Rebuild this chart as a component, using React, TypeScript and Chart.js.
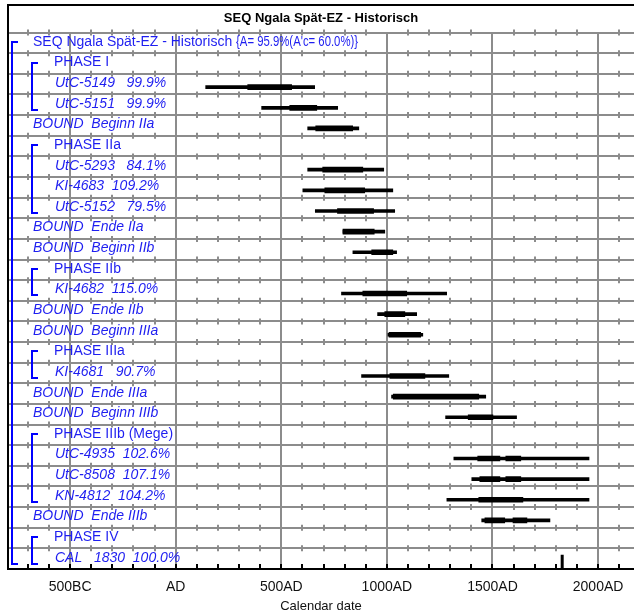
import { useEffect, useRef } from 'react';
import { Chart, registerables } from 'chart.js';

Chart.register(...registerables);

const rowNames = [
  'SEQ Ngala Spät-EZ - Historisch',
  'PHASE I',
  'UtC-5149',
  'UtC-5151',
  'BOUND  Beginn IIa',
  'PHASE IIa',
  'UtC-5293',
  'KI-4683',
  'UtC-5152',
  'BOUND  Ende IIa',
  'BOUND  Beginn IIb',
  'PHASE IIb',
  'KI-4682',
  'BOUND  Ende IIb',
  'BOUND  Beginn IIIa',
  'PHASE IIIa',
  'KI-4681',
  'BOUND  Ende IIIa',
  'BOUND  Beginn IIIb',
  'PHASE IIIb (Mege)',
  'UtC-4935',
  'UtC-8508',
  'KN-4812',
  'BOUND  Ende IIIb',
  'PHASE IV',
  'CAL   1830',
];

const rowKinds = [
  'seq', 'phase', 'date', 'date', 'bound', 'phase', 'date', 'date', 'date', 'bound',
  'bound', 'phase', 'date', 'bound', 'bound', 'phase', 'date', 'bound', 'bound', 'phase',
  'date', 'date', 'date', 'bound', 'phase', 'date',
];

const agreements = [
  "{A= 95.9%(A'c= 60.0%)}", '', '99.9%', '99.9%', '', '', '84.1%', '109.2%', '79.5%', '',
  '', '', '115.0%', '', '', '', '90.7%', '', '', '',
  '102.6%', '107.1%', '104.2%', '', '', '100.0%',
];

const range95From = [null, null, 142, 407, 625, null, 625, 602, 661, 792, 839, null, 785, 956, 1005, null, 880, 1022, 1278, null, 1317, 1402, 1284, 1449, null, null];
const range95To = [null, null, 658, 767, 867, null, 985, 1028, 1037, 990, 1046, null, 1283, 1141, 1170, null, 1293, 1468, 1614, null, 1957, 1957, 1957, 1772, null, null];
const range68From = [null, null, 341, 540, 663, null, 696, 706, 766, 792, 928, null, 886, 990, 1010, null, 1014, 1030, 1385, null, 1430, 1440, 1435, 1464, null, null];
const range68To = [null, null, 549, 668, 838, null, 886, 895, 937, 940, 1028, null, 1094, 1085, 1160, null, 1180, 1435, 1502, null, 1535, 1535, 1644, 1558, null, null];
const range68bFrom = [null, null, null, null, null, null, null, null, null, null, null, null, null, null, null, null, null, null, null, null, 1563, 1563, null, 1597, null, null];
const range68bTo = [null, null, null, null, null, null, null, null, null, null, null, null, null, null, null, null, null, null, null, null, 1634, 1634, null, 1663, null, null];

const calendarDate = 1830;
const calendarRow = 25;

const sequenceGroup = [0, 25];
const phaseGroups = [[1, 3], [5, 8], [11, 12], [15, 16], [19, 22], [24, 25]];

const xMin = -794;
const xMax = 2170;
const tickStep = 100;
const majorStep = 500;

const FONT = '"Liberation Sans", Arial, Helvetica, sans-serif';
const BLUE = '#1e1ef0';
const GRID = '#8c8c8c';

function yearLabel(v: number): string {
  if (v === 0) return 'AD';
  if (v < 0) return `${-v}BC`;
  return `${v}AD`;
}

function pairs(from: (number | null)[], to: (number | null)[]) {
  return from.map((f, i) => (f == null || to[i] == null ? null : [f, to[i] as number]));
}

const oxcalPlugin = {
  id: 'oxcalDecor',
  beforeDatasetsDraw(chart: any) {
    const { ctx, chartArea, scales } = chart;
    const xs = scales.x;
    const ys = scales.y;
    const n = rowNames.length;
    const rowH = (chartArea.bottom - chartArea.top) / n;
    ctx.save();
    ctx.strokeStyle = GRID;
    ctx.lineWidth = 2;
    for (let i = 0; i < n; i++) {
      const y = ys.getPixelForValue(i) - rowH / 2;
      for (let v = Math.ceil(xMin / tickStep) * tickStep; v <= xMax; v += tickStep) {
        if (v % majorStep === 0) continue;
        const x = Math.round(xs.getPixelForValue(v));
        ctx.beginPath();
        ctx.moveTo(x, y - 3);
        ctx.lineTo(x, y + 3);
        ctx.stroke();
      }
    }
    ctx.strokeStyle = '#000';
    for (let v = Math.ceil(xMin / tickStep) * tickStep; v <= xMax; v += tickStep) {
      const x = Math.round(xs.getPixelForValue(v));
      ctx.beginPath();
      ctx.moveTo(x, chartArea.bottom);
      ctx.lineTo(x, chartArea.bottom - 5);
      ctx.stroke();
    }
    ctx.restore();
    ctx.save();
    ctx.translate(0, 3);
  },
  afterDatasetsDraw(chart: any) {
    const { ctx, chartArea, scales } = chart;
    ctx.restore();
    const ys = scales.y;
    ctx.save();
    ctx.fillStyle = BLUE;
    ctx.textBaseline = 'middle';
    ctx.textAlign = 'left';
    rowNames.forEach((name, i) => {
      const kind = rowKinds[i];
      const italic = kind === 'date' || kind === 'bound';
      ctx.font = `${italic ? 'italic ' : ''}14px ${FONT}`;
      const x = kind === 'phase' ? 54 : kind === 'date' ? 55 : 33;
      const y = ys.getPixelForValue(i) - 1;
      const ag = agreements[i];
      if (kind === 'seq') {
        ctx.fillText(name, x, y);
        const w = ctx.measureText(name + ' ').width;
        ctx.fillText(ag, x + w, y, 122);
      } else {
        const text = ag ? name + (ag.length > 5 ? '  ' : '   ') + ag : name;
        ctx.fillText(text, x, y);
      }
    });
    ctx.strokeStyle = '#0000ff';
    ctx.lineWidth = 2;
    const bracket = (a: number, b: number, x: number) => {
      const y1 = Math.round(ys.getPixelForValue(a)) - 1;
      const y2 = Math.round(ys.getPixelForValue(b)) + 5;
      ctx.beginPath();
      ctx.moveTo(x + 6, y1);
      ctx.lineTo(x, y1);
      ctx.lineTo(x, y2);
      ctx.lineTo(x + 6, y2);
      ctx.stroke();
    };
    bracket(sequenceGroup[0], sequenceGroup[1], 12);
    phaseGroups.forEach(([a, b]) => bracket(a, b, 32));
    ctx.strokeStyle = '#000';
    ctx.lineWidth = 2;
    ctx.beginPath();
    ctx.moveTo(chartArea.right, 5);
    ctx.lineTo(chartArea.left, 5);
    ctx.lineTo(chartArea.left, chartArea.top);
    ctx.stroke();
    ctx.restore();
  },
};

export default function App() {
  const ref = useRef<HTMLCanvasElement | null>(null);
  useEffect(() => {
    if (!ref.current) return;
    const chart = new Chart(ref.current, {
      type: 'bar',
      data: {
        labels: rowNames,
        datasets: [
          {
            label: '95.4% range',
            data: pairs(range95From, range95To) as any,
            backgroundColor: '#000',
            barThickness: 3,
            grouped: false,
          } as any,
          {
            label: '68.2% range',
            data: pairs(range68From, range68To) as any,
            backgroundColor: '#000',
            barThickness: 5,
            grouped: false,
          } as any,
          {
            label: '68.2% range (b)',
            data: pairs(range68bFrom, range68bTo) as any,
            backgroundColor: '#000',
            barThickness: 5,
            grouped: false,
          } as any,
          {
            type: 'scatter',
            label: 'Calendar',
            data: [{ x: calendarDate, y: rowNames[calendarRow] }],
            pointStyle: 'line',
            rotation: 90,
            radius: 7,
            borderWidth: 3,
            borderColor: '#000',
            backgroundColor: '#000',
          } as any,
        ],
      },
      options: {
        indexAxis: 'y',
        responsive: false,
        animation: false,
        events: [],
        layout: { autoPadding: false, padding: { top: 5, left: 8, right: 0, bottom: 0 } },
        plugins: {
          legend: { display: false },
          tooltip: { enabled: false },
          title: {
            display: true,
            text: 'SEQ Ngala Spät-EZ - Historisch',
            color: '#000',
            font: { family: FONT, size: 13, weight: 'bold' },
            padding: { top: 6, bottom: 6 },
          },
        },
        scales: {
          x: {
            type: 'linear',
            position: 'bottom',
            min: xMin,
            max: xMax,
            afterFit: (s: any) => { s.height = 47; },
            ticks: {
              stepSize: tickStep,
              autoSkip: false,
              maxRotation: 0,
              padding: 0,
              color: '#111',
              font: { family: FONT, size: 14 },
              callback: (v: any) => (Number(v) % majorStep === 0 ? yearLabel(Number(v)) : ''),
            },
            grid: {
              drawTicks: true,
              tickLength: 10,
              tickColor: 'rgba(0,0,0,0)',
              lineWidth: 2,
              color: (c: any) => (c.tick && c.tick.value % majorStep === 0 ? GRID : 'rgba(0,0,0,0)'),
            },
            border: { display: true, color: '#000', width: 2 },
            title: {
              display: true,
              text: 'Calendar date',
              color: '#111',
              font: { family: FONT, size: 13 },
              padding: { top: 0, bottom: 2 },
            },
          },
          y: {
            type: 'category',
            offset: true,
            afterFit: (s: any) => { s.width = 0; },
            ticks: { display: false, padding: 0 },
            grid: { offset: true, drawTicks: false, color: GRID, lineWidth: 2 },
            border: { display: true, color: '#000', width: 2 },
          },
        },
      } as any,
      plugins: [oxcalPlugin],
    });
    return () => chart.destroy();
  }, []);
  return (
    <div style={{ position: 'fixed', left: 0, top: 0, width: 634, height: 616, background: '#fff' }}>
      <canvas ref={ref} width={634} height={616} style={{ display: 'block' }} />
    </div>
  );
}
